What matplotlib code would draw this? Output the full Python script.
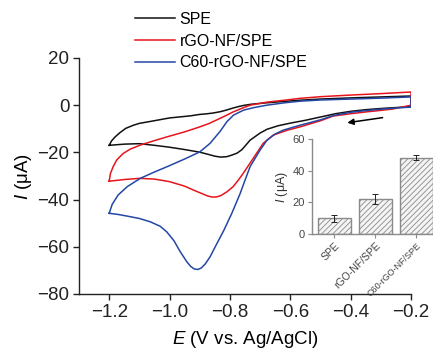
import matplotlib
matplotlib.use("Agg")
import matplotlib.pyplot as plt
from matplotlib.lines import Line2D

plt.rcParams['font.family'] = ['Liberation Sans', 'DejaVu Sans']
plt.rcParams['mathtext.fontset'] = 'custom'
plt.rcParams['mathtext.it'] = 'Liberation Sans:italic'
plt.rcParams['mathtext.rm'] = 'Liberation Sans'
plt.rcParams['hatch.color'] = '#c8c8c8'
plt.rcParams['hatch.linewidth'] = 0.6

# ---- data ----
labels = ["SPE", "rGO-NF/SPE", "C60-rGO-NF/SPE"]
colors = ["#111111", "#e8141c", "#2447a6"]

spe_E = [-1.2, -1.15, -1.1, -1.05, -1.0, -0.95, -0.9, -0.87, -0.85, -0.83, -0.81, -0.795, -0.776, -0.76,
         -0.745, -0.733, -0.7, -0.677, -0.64, -0.6, -0.55, -0.5, -0.45, -0.4, -0.35, -0.3, -0.25, -0.2,
         -0.2, -0.3, -0.4, -0.5, -0.57, -0.63, -0.68, -0.73, -0.755, -0.775, -0.795, -0.81, -0.83, -0.855,
         -0.88, -0.9, -0.93, -1.0, -1.06, -1.1, -1.12, -1.145, -1.165, -1.18, -1.192, -1.2]
spe_I = [-17.0, -16.5, -16.3, -17.0, -17.8, -18.8, -19.9, -20.9, -21.6, -22.0, -21.8, -21.2, -20.3, -18.8,
         -16.6, -14.8, -11.8, -10.2, -8.7, -7.6, -6.4, -5.0, -3.6, -2.6, -1.9, -1.4, -1.0, -0.6,
         3.9, 3.5, 3.1, 2.6, 2.1, 1.5, 1.0, 0.4, -0.1, -0.7, -1.4, -2.0, -2.7, -3.3,
         -3.7, -3.9, -4.5, -5.4, -6.8, -7.7, -8.5, -9.8, -11.7, -13.4, -15.1, -17.0]

rgo_E = [-1.2, -1.15, -1.1, -1.05, -1.0, -0.95, -0.92, -0.89, -0.875, -0.86, -0.845, -0.83, -0.81, -0.79,
         -0.773, -0.756, -0.72, -0.69, -0.657, -0.61, -0.568, -0.5, -0.458, -0.4, -0.346, -0.3, -0.26, -0.2,
         -0.2, -0.3, -0.4, -0.5, -0.568, -0.62, -0.677, -0.733, -0.76, -0.79, -0.815, -0.843, -0.87, -0.9,
         -0.95, -1.008, -1.05, -1.097, -1.13, -1.154, -1.175, -1.187, -1.196, -1.2]
rgo_I = [-32.2, -31.5, -31.0, -31.3, -32.4, -34.3, -36.0, -37.6, -38.4, -38.9, -38.9, -38.3, -36.7, -34.6,
         -31.9, -28.9, -22.0, -16.2, -12.7, -10.6, -9.2, -6.6, -4.6, -3.6, -2.8, -2.2, -1.6, 0.0,
         5.6, 4.9, 4.3, 3.6, 2.9, 2.1, 1.3, 0.0, -1.3, -2.9, -4.5, -6.2, -7.8, -9.2,
         -11.3, -13.4, -15.0, -16.9, -18.6, -20.5, -23.2, -26.1, -29.0, -32.2]

c60_E = [-1.2, -1.17, -1.14, -1.1, -1.064, -1.031, -1.009, -0.985, -0.965, -0.943, -0.93, -0.918, -0.906,
         -0.895, -0.882, -0.866, -0.843, -0.82, -0.794, -0.766, -0.75, -0.733, -0.7, -0.677, -0.65, -0.624,
         -0.568, -0.5, -0.458, -0.4, -0.35, -0.3, -0.25, -0.2,
         -0.2, -0.3, -0.4, -0.5, -0.568, -0.62, -0.678, -0.72, -0.755, -0.788, -0.81, -0.832, -0.866,
         -0.9, -0.95, -1.009, -1.05, -1.097, -1.14, -1.17, -1.19, -1.2]
c60_I = [-45.8, -46.3, -47.0, -48.0, -49.4, -51.3, -53.7, -57.5, -62.0, -66.3, -68.3, -69.4, -69.6,
         -69.0, -67.3, -64.3, -58.6, -53.0, -45.9, -37.4, -31.8, -26.0, -19.0, -14.8, -12.2, -10.6,
         -8.5, -6.2, -4.4, -3.0, -2.3, -1.7, -1.2, -0.8,
         3.5, 3.0, 2.6, 2.2, 1.7, 1.0, 0.0, -1.0, -2.1, -4.2, -7.0, -11.0, -16.2,
         -19.8, -22.8, -26.1, -28.3, -31.0, -34.5, -38.0, -42.0, -45.8]

bar_vals = [9.8, 22.0, 48.2]
bar_err = [2.1, 3.0, 1.5]

E_ticks = [-1.2, -1.0, -0.8, -0.6, -0.4, -0.2]
I_ticks = [20, 0, -20, -40, -60, -80]
inset_ticks = [0, 20, 40, 60]

# ---- figure ----
fig = plt.figure(figsize=(4.33, 3.5), dpi=100)
ax = fig.add_axes([79/433, 1-294/350, (411-79)/433, (294-58)/350])

for E, I, c in zip([spe_E, rgo_E, c60_E], [spe_I, rgo_I, c60_I], colors):
    ax.plot(E, I, color=c, lw=1.1, solid_joinstyle='round')

ax.set_xlim(-1.3, -0.2)
ax.set_ylim(-80, 20)
ax.set_xticks(E_ticks)
ax.set_yticks(I_ticks)
ax.set_xticklabels([f"{t:.1f}".replace('-', '\u2212') for t in E_ticks])
ax.set_yticklabels([f"{t}".replace('-', '\u2212') for t in I_ticks])
for s in ['top', 'right']:
    ax.spines[s].set_visible(False)
for s in ['left', 'bottom']:
    ax.spines[s].set_linewidth(1.0)
    ax.spines[s].set_color('#222222')
ax.tick_params(direction='out', length=4, width=1.0, labelsize=13.5, colors='#222222', pad=3)

ax.set_xlabel(r"$E$ (V vs. Ag/AgCl)", fontsize=13.5, labelpad=6)
ax.set_ylabel(r"$I$ (μA)", fontsize=13.5, labelpad=2)

ax.annotate("", xy=(-0.42, -7.6), xytext=(-0.285, -5.1),
            arrowprops=dict(arrowstyle='-|>', color='black', lw=1.1, mutation_scale=9))

handles = [Line2D([], [], color=c, lw=1.1) for c in colors]
fig.legend(handles, labels, loc='upper left', bbox_to_anchor=(135/433, 1-12/350),
           frameon=False, fontsize=11.5, handlelength=2.5, handletextpad=0.3,
           labelspacing=0.42, borderpad=0, borderaxespad=0)

# ---- inset ----
ins = fig.add_axes([312/433, 1-234/350, (433-312)/433, 95/350])
x = list(range(len(bar_vals)))
ins.bar(x, bar_vals, width=0.8, color='#f4f4f4', edgecolor='#8a8a8a', linewidth=1.0, hatch='//////')
ins.errorbar(x, bar_vals, yerr=bar_err, fmt='none', ecolor='#222222', elinewidth=0.7, capsize=2, capthick=0.7)
ins.set_xlim(-0.55, 2.41)
ins.set_ylim(0, 60)
ins.set_yticks(inset_ticks)
ins.set_xticks(x)
ins.set_xticklabels(labels, rotation=45, ha='right', rotation_mode='anchor')
for lab, fs in zip(ins.get_xticklabels(), [7.5, 7.5, 6.5]):
    lab.set_fontsize(fs)
for s in ['top', 'right']:
    ins.spines[s].set_visible(False)
for s in ['left', 'bottom']:
    ins.spines[s].set_color('#8a8a8a')
    ins.spines[s].set_linewidth(1.0)
ins.tick_params(direction='out', length=3, width=0.8, color='#8a8a8a', labelcolor='#444444', pad=2)
ins.tick_params(axis='y', labelsize=8)
ins.set_ylabel(r"$I$ (μA)", fontsize=9, color='#333333', labelpad=2)

fig.savefig("out.png", dpi=100)
